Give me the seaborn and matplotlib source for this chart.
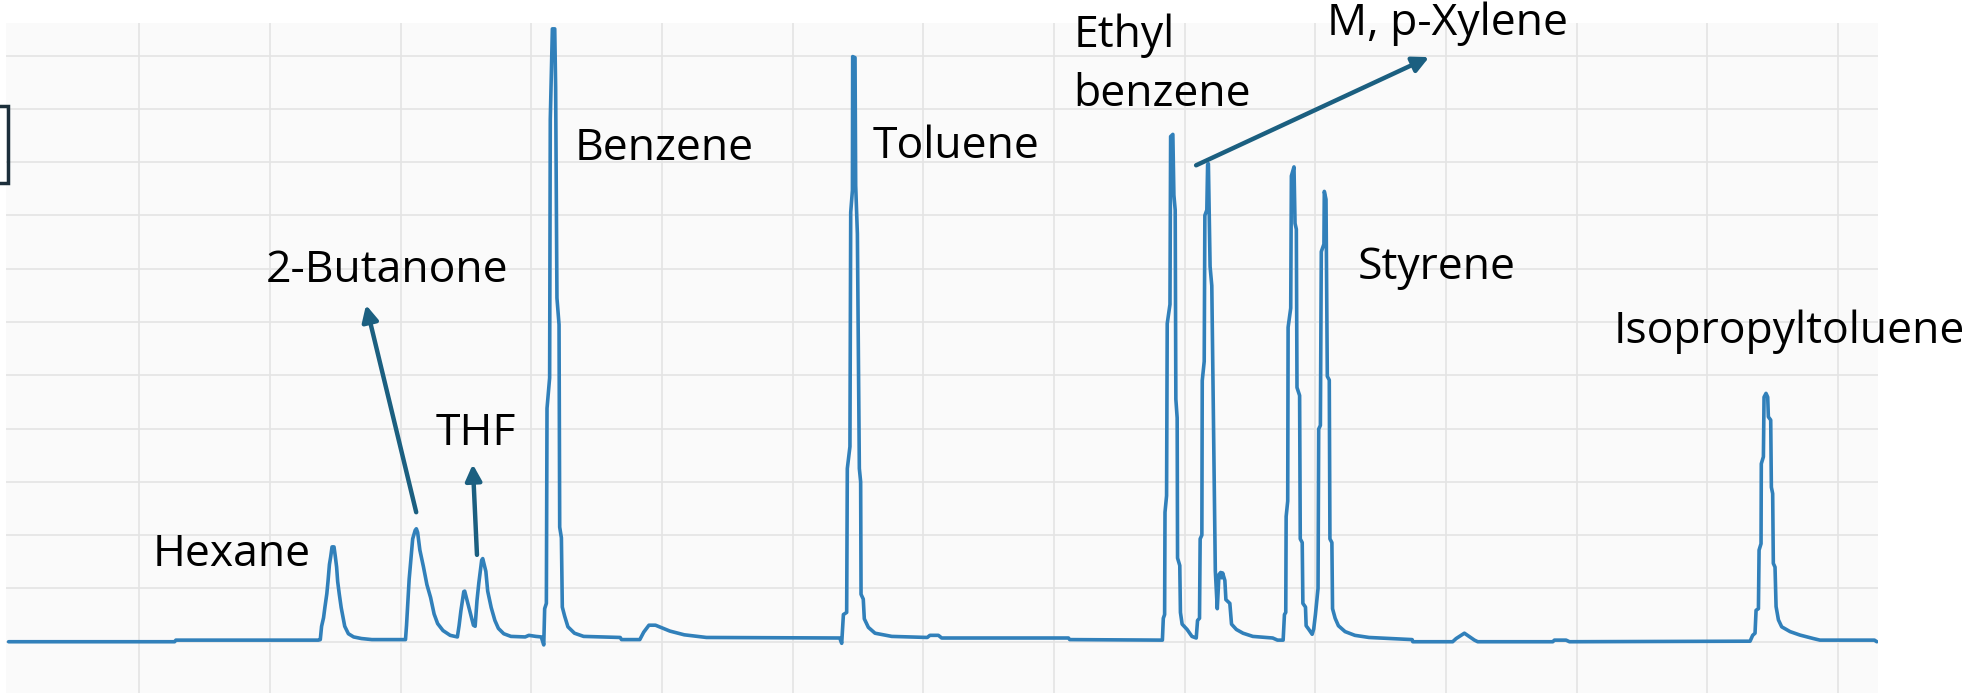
import matplotlib
matplotlib.use("Agg")
import matplotlib.pyplot as plt
from matplotlib.patches import Rectangle
import pandas as pd
import seaborn as sns

# detector trace, both axes in grid units
time = [
    0.0, 1.27, 1.28, 2.37,
    2.385, 2.395, 2.41, 2.42, 2.435, 2.444, 2.455, 2.465, 2.475, 2.49, 2.50, 2.51,
    2.518, 2.53, 2.545, 2.56, 2.572, 2.60, 2.64, 2.70, 2.78, 3.037,
    3.045, 3.065, 3.092, 3.111, 3.12, 3.13, 3.147, 3.174, 3.201, 3.229, 3.256,
    3.283, 3.324, 3.379, 3.434,
    3.447, 3.461, 3.483, 3.49, 3.516, 3.557, 3.57, 3.584, 3.598, 3.62, 3.628,
    3.652, 3.666, 3.693, 3.721, 3.748, 3.789, 3.844, 3.953, 3.981, 4.035, 4.076, 4.095,
    4.102, 4.115, 4.12, 4.14, 4.145, 4.161, 4.179, 4.186, 4.196, 4.212, 4.217,
    4.23, 4.237, 4.255, 4.28, 4.33, 4.40, 4.68, 4.69, 4.83, 4.86, 4.90, 4.95,
    5.0, 5.06, 5.17, 5.34, 6.36, 6.375,
    6.388, 6.413, 6.418, 6.438, 6.444, 6.457, 6.459, 6.477, 6.482, 6.495, 6.51,
    6.52, 6.523, 6.54, 6.548, 6.579, 6.63, 6.758, 7.03, 7.05, 7.115, 7.14, 8.11,
    8.12, 8.821,
    8.829, 8.836, 8.846, 8.849, 8.861, 8.866, 8.887, 8.892, 8.909, 8.917, 8.927,
    8.932, 8.942, 8.945, 8.962, 8.967, 8.98, 9.018, 9.055, 9.088,
    9.098, 9.113, 9.118, 9.131, 9.134, 9.149, 9.154, 9.169, 9.175, 9.181, 9.194,
    9.207, 9.224, 9.234, 9.249, 9.262, 9.275, 9.282, 9.29, 9.307, 9.315, 9.345,
    9.358, 9.395, 9.446, 9.521, 9.673, 9.71, 9.753,
    9.763, 9.773, 9.776, 9.788, 9.791, 9.811, 9.816, 9.836, 9.844, 9.854, 9.859,
    9.879, 9.884, 9.899, 9.904, 9.924, 9.929, 9.95, 9.975, 9.987,
    10.0, 10.02, 10.025, 10.038, 10.045, 10.065, 10.068, 10.081, 10.091, 10.106,
    10.111, 10.126, 10.131, 10.151, 10.176, 10.227, 10.302, 10.41, 10.74, 10.745,
    11.05, 11.077, 11.14, 11.217, 11.242, 11.816, 11.829, 11.918, 11.944, 13.326,
    13.346, 13.364, 13.372, 13.39, 13.395, 13.41, 13.412, 13.428, 13.433, 13.448,
    13.461, 13.466, 13.484, 13.489, 13.499, 13.504, 13.517, 13.525, 13.543, 13.568,
    13.632, 13.708, 13.81, 13.861, 14.278, 14.296,
]
signal = [
    0.0, 0.0, 0.03, 0.03,
    0.04, 0.29, 0.45, 0.64, 0.9, 1.13, 1.45, 1.6, 1.78, 1.78, 1.6, 1.4,
    1.13, 0.9, 0.64, 0.45, 0.29, 0.15, 0.09, 0.06, 0.04, 0.04,
    0.31, 1.17, 1.93, 2.09, 2.12, 2.05, 1.72, 1.41, 1.07, 0.83, 0.52,
    0.34, 0.21, 0.12, 0.09,
    0.3, 0.58, 0.94, 0.95, 0.7, 0.31, 0.29, 0.77, 1.1, 1.53, 1.56,
    1.32, 0.95, 0.64, 0.4, 0.25, 0.15, 0.1, 0.09, 0.12, 0.1, 0.09, -0.06,
    0.62, 0.72, 4.38, 4.95, 9.8, 11.5, 11.5, 10.4, 6.45, 5.95, 2.15,
    1.95, 0.65, 0.48, 0.28, 0.16, 0.1, 0.08, 0.04, 0.04, 0.18, 0.31, 0.31,
    0.26, 0.2, 0.13, 0.08, 0.07, -0.03,
    0.51, 0.55, 3.25, 3.66, 8.06, 8.47, 10.98, 10.96, 8.56, 7.65, 3.25,
    3.0, 0.89, 0.8, 0.43, 0.27, 0.16, 0.1, 0.08, 0.12, 0.12, 0.07, 0.07,
    0.04, 0.03,
    0.03, 0.44, 0.51, 2.43, 2.74, 5.97, 6.33, 9.48, 9.52, 8.38, 8.1,
    4.55, 4.2, 1.57, 1.43, 0.55, 0.33, 0.23, 0.1, 0.07,
    0.4, 0.44, 1.93, 2.0, 4.9, 5.26, 8.0, 8.1, 8.95, 8.97, 7.04,
    6.68, 3.28, 1.33, 0.62, 1.26, 1.3, 1.2, 1.29, 1.15, 0.79, 0.72,
    0.33, 0.23, 0.16, 0.1, 0.07, 0.03, 0.03,
    0.51, 0.55, 2.35, 2.64, 5.9, 6.26, 8.74, 8.91, 7.85, 7.74, 4.77,
    4.62, 1.93, 1.86, 0.72, 0.65, 0.3, 0.23, 0.14, 0.24,
    0.51, 1.0, 3.99, 4.06, 7.32, 7.46, 8.45, 8.3, 4.98, 4.91,
    1.93, 1.86, 0.62, 0.44, 0.3, 0.19, 0.12, 0.08, 0.04, 0.0,
    0.0, 0.06, 0.16, 0.03, 0.0, 0.0, 0.03, 0.03, 0.0, 0.01,
    0.12, 0.16, 0.59, 0.62, 1.72, 1.84, 3.34, 3.47, 4.59, 4.66,
    4.59, 4.22, 4.16, 2.9, 2.78, 1.47, 1.4, 0.66, 0.41, 0.28,
    0.19, 0.125, 0.06, 0.03, 0.03, 0.0,
]

compounds = ["Hexane", "2-Butanone", "THF", "Benzene", "Toluene",
             "Ethyl", "benzene", "M, p-Xylene", "Styrene", "Isopropyltoluene"]

trace = pd.DataFrame({"time": time, "signal": signal})

sns.set_style("whitegrid", {"axes.facecolor": "#fafafa", "grid.color": "#e4e4e4",
                            "axes.edgecolor": "#fafafa"})
plt.rcParams["font.family"] = ["Open Sans", "DejaVu Sans"]

fig = plt.figure(figsize=(19.72, 6.93), dpi=100)
ax = fig.add_axes([6 / 1972, 0, 1872 / 1972, 670 / 693])

sns.lineplot(data=trace, x="time", y="signal", ax=ax, estimator=None, sort=False,
             color="#3180ba", linewidth=2.6)

ax.set_xlim(-0.02, 14.305)
ax.set_ylim(-0.962, 11.61)
ax.set_xticks(range(1, 15))
ax.set_yticks(range(0, 12))
ax.grid(True, linewidth=1.2)
ax.tick_params(length=0, labelbottom=False, labelleft=False)
ax.set_xlabel("")
ax.set_ylabel("")
for s in ax.spines.values():
    s.set_visible(False)

# label baselines (left edge, baseline) in data units
label_pos = [(1.10, 1.43), (1.97, 6.75), (3.27, 3.70), (4.33, 9.04), (6.61, 9.08),
             (8.15, 11.16), (8.15, 10.05), (10.085, 11.39), (10.32, 6.81), (12.28, 5.61)]
for name, (lx, ly) in zip(compounds, label_pos):
    ax.text(lx, ly, name, fontsize=32, color="black", ha="left", va="baseline",
            clip_on=False)

arrow_col = "#1b5f80"
arrows = [((3.119, 2.43), (2.735, 6.32)),
          ((3.584, 1.63), (3.552, 3.33)),
          ((9.087, 8.94), (10.87, 10.97))]
for tail, head in arrows:
    ax.annotate("", xy=head, xytext=tail,
                arrowprops=dict(arrowstyle="-|>", color=arrow_col, lw=3.2,
                                mutation_scale=24, shrinkA=0, shrinkB=0),
                annotation_clip=False)

# cut-off legend box at the left edge
fig.add_artist(Rectangle((-20 / 1972, (693 - 183) / 693), 28 / 1972, 77 / 693,
                         transform=fig.transFigure, fill=False,
                         edgecolor="#1c2f3b", lw=2.5))

fig.savefig("out.png", dpi=100, facecolor="white")
